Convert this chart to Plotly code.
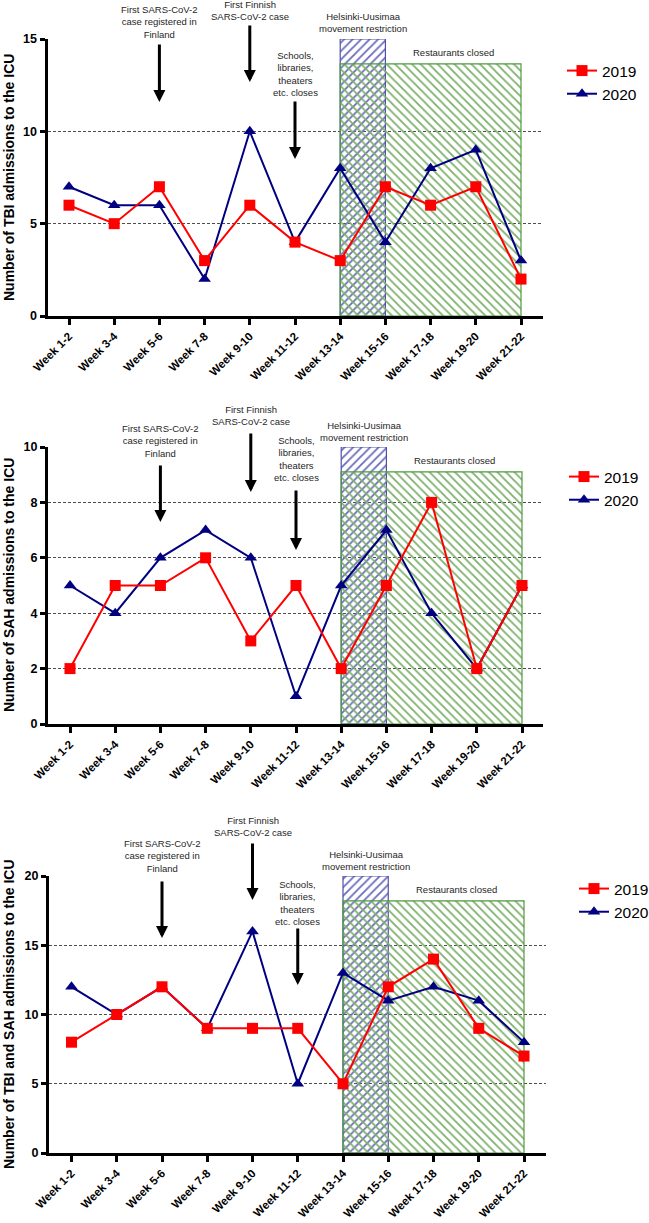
import plotly.graph_objects as go

# ---------------- data ----------------
weeks = ["Week 1-2", "Week 3-4", "Week 5-6", "Week 7-8", "Week 9-10", "Week 11-12",
         "Week 13-14", "Week 15-16", "Week 17-18", "Week 19-20", "Week 21-22"]

tbi_2019 = [6, 5, 7, 3, 6, 4, 3, 7, 6, 7, 2]
tbi_2020 = [7, 6, 6, 2, 10, 4, 8, 4, 8, 9, 3]
sah_2019 = [2, 5, 5, 6, 3, 5, 2, 5, 8, 2, 5]
sah_2020 = [5, 4, 6, 7, 6, 1, 5, 7, 4, 2, 5]
all_2019 = [8, 10, 12, 9, 9, 9, 5, 12, 14, 9, 7]
all_2020 = [12, 10, 12, 9, 16, 5, 13, 11, 12, 11, 8]

series_names = ["2019", "2020"]
y_titles = ["Number of TBI admissions to the ICU",
            "Number of SAH admissions to the ICU",
            "Number of TBI and SAH admissions to the ICU"]
y_max = [15, 10, 20]
y_dtick = [5, 2, 5]

event_texts = ["First SARS-CoV-2<br>case registered in<br>Finland",
               "First Finnish<br>SARS-CoV-2 case",
               "Schools,<br>libraries,<br>theaters<br>etc. closes"]
event_weeks = ["Week 5-6", "Week 9-10", "Week 11-12"]

restriction_label = "Helsinki-Uusimaa<br>movement restriction"
restriction_weeks = ("Week 13-14", "Week 15-16")
restriction_top = [15, 10, 20]
restaurant_label = "Restaurants closed"
restaurant_weeks = ("Week 13-14", "Week 21-22")
restaurant_top = [13.65, 9.1, 18.2]

panels_data = [(tbi_2019, tbi_2020), (sah_2019, sah_2020), (all_2019, all_2020)]

# ---------------- layout geometry (pixels) ----------------
W, H = 649, 1223
geom = [
    dict(top=39, bottom=316, left=47.5, right=543, w0=69, w10=521,
         t=[21.5, 10.5, 74], arr=[(43, 102), (24, 82), (100, 159)], t4=22.5, t5=52,
         leg_x=562, leg_y=54),
    dict(top=447, bottom=724, left=48, right=543, w0=70, w10=522,
         t=[441, 416, 459], arr=[(464, 522), (432, 492), (489, 550)], t4=431.5, t5=461,
         leg_x=564, leg_y=460),
    dict(top=876, bottom=1153, left=49, right=546, w0=71.5, w10=524,
         t=[856, 826.5, 902.5], arr=[(880, 938), (842, 900), (927, 985)], t4=860.5, t5=889,
         leg_x=574, leg_y=872),
]

def py(p):
    return 1 - p / H

def px(p):
    return p / W

FONT = "Liberation Sans, Arial, sans-serif"
RED = "#ff0000"
NAVY = "#000080"
BLUE_HATCH = "#6b6bbd"
BLUE_EDGE = "#5050a8"
GREEN_HATCH = "#7db06a"
GREEN_EDGE = "#4f9a3f"
TXT = "#262626"

idx = {w: i for i, w in enumerate(weeks)}
x_idx = [idx[w] for w in weeks]

fig = go.Figure()
annotations = []
layout = dict(width=W, height=H, margin=dict(l=0, r=0, t=0, b=0, pad=0, autoexpand=False),
              paper_bgcolor="white", plot_bgcolor="white", showlegend=True,
              barmode="overlay", font=dict(family=FONT, color="black"))

for k, g in enumerate(geom):
    sfx = "" if k == 0 else str(k + 1)
    xa, ya = "x" + sfx, "y" + sfx
    leg = "legend" + sfx
    d2019, d2020 = panels_data[k]

    # hatched period boxes
    r0, r1 = idx[restriction_weeks[0]], idx[restriction_weeks[1]]
    fig.add_trace(go.Bar(
        x=[(r0 + r1) / 2], y=[restriction_top[k]], width=[r1 - r0], xaxis=xa, yaxis=ya,
        marker=dict(color=BLUE_HATCH, line=dict(color=BLUE_EDGE, width=1.2),
                    pattern=dict(shape="/", fgcolor=BLUE_HATCH, bgcolor="rgba(0,0,0,0)",
                                 size=6, solidity=0.3, fillmode="replace")),
        showlegend=False, hoverinfo="skip"))
    g0, g1 = idx[restaurant_weeks[0]], idx[restaurant_weeks[1]]
    fig.add_trace(go.Bar(
        x=[(g0 + g1) / 2], y=[restaurant_top[k]], width=[g1 - g0], xaxis=xa, yaxis=ya,
        marker=dict(color=GREEN_HATCH, line=dict(color=GREEN_EDGE, width=1.2),
                    pattern=dict(shape="\\", fgcolor=GREEN_HATCH, bgcolor="rgba(0,0,0,0)",
                                 size=6, solidity=0.3, fillmode="replace")),
        showlegend=False, hoverinfo="skip"))

    # lines (2020 below, 2019 on top)
    fig.add_trace(go.Scatter(
        x=x_idx, y=d2020, mode="lines+markers", name=series_names[1], xaxis=xa, yaxis=ya,
        line=dict(color=NAVY, width=2), marker=dict(symbol="triangle-up", size=11, color=NAVY),
        legend=leg, legendrank=2, cliponaxis=False))
    fig.add_trace(go.Scatter(
        x=x_idx, y=d2019, mode="lines+markers", name=series_names[0], xaxis=xa, yaxis=ya,
        line=dict(color=RED, width=2), marker=dict(symbol="square", size=11, color=RED),
        legend=leg, legendrank=1, cliponaxis=False))

    scale = (g["w10"] - g["w0"]) / 10.0
    xr = [(g["left"] - g["w0"]) / scale, 10 + (g["right"] - g["w10"]) / scale]

    layout["xaxis" + sfx] = dict(
        domain=[px(g["left"]), px(g["right"])], range=xr, anchor=ya, automargin=False,
        tickmode="array", tickvals=x_idx, ticktext=weeks, tickangle=-45,
        tickfont=dict(family=FONT, size=11.5, weight="bold", color="black"),
        showline=True, linecolor="black", linewidth=3, ticks="outside",
        ticklen=6, tickwidth=2.5, tickcolor="black", showgrid=False, zeroline=False,
        fixedrange=True)
    layout["yaxis" + sfx] = dict(
        domain=[py(g["bottom"]), py(g["top"])], range=[0, y_max[k]], anchor=xa,
        automargin=False, dtick=y_dtick[k], tick0=0,
        tickfont=dict(family=FONT, size=12.5, weight="bold", color="black"),
        showline=True, linecolor="black", linewidth=3, ticks="outside",
        ticklen=5, tickwidth=2.5, tickcolor="black",
        showgrid=True, gridcolor="#4d4d4d", gridwidth=1, griddash="3px,2px",
        zeroline=False, fixedrange=True)

    layout[leg] = dict(x=px(g["leg_x"]), y=py(g["leg_y"]), xanchor="left", yanchor="top",
                       font=dict(family=FONT, size=15.5, color="black"),
                       bgcolor="rgba(0,0,0,0)", borderwidth=0, traceorder="normal",
                       tracegroupgap=0)

    # y-axis title
    annotations.append(dict(
        text=y_titles[k], textangle=-90, xref="paper", yref="paper",
        x=px(8.5), y=py((g["top"] + g["bottom"]) / 2), xanchor="center", yanchor="middle",
        showarrow=False, font=dict(family=FONT, size=14, weight="bold", color="black")))

    # event texts + arrows
    for j, (txt, wk) in enumerate(zip(event_texts, event_weeks)):
        annotations.append(dict(
            text=txt, xref=xa, yref="paper", x=idx[wk], y=py(g["t"][j]),
            xanchor="center", yanchor="middle", showarrow=False,
            font=dict(family=FONT, size=9.5, color=TXT)))
        a_top, a_tip = g["arr"][j]
        annotations.append(dict(
            text="", xref=xa, yref="paper", x=idx[wk], y=py(a_tip),
            ax=0, ay=-(a_tip - a_top), axref="pixel", ayref="pixel",
            showarrow=True, arrowhead=2, arrowsize=0.8, arrowwidth=3, arrowcolor="black"))

    annotations.append(dict(
        text=restriction_label, xref=xa, yref="paper", x=(r0 + r1) / 2, y=py(g["t4"]),
        xanchor="center", yanchor="middle", showarrow=False,
        font=dict(family=FONT, size=9.5, color=TXT)))
    annotations.append(dict(
        text=restaurant_label, xref=xa, yref="paper", x=(r1 + g1) / 2, y=py(g["t5"]),
        xanchor="center", yanchor="middle", showarrow=False,
        font=dict(family=FONT, size=9.5, color=TXT)))

layout["annotations"] = annotations
fig.update_layout(**layout)
fig.write_html("out.html", config={"displayModeBar": False},
               post_script="document.body.style.margin='0px';document.body.style.padding='0px';")
